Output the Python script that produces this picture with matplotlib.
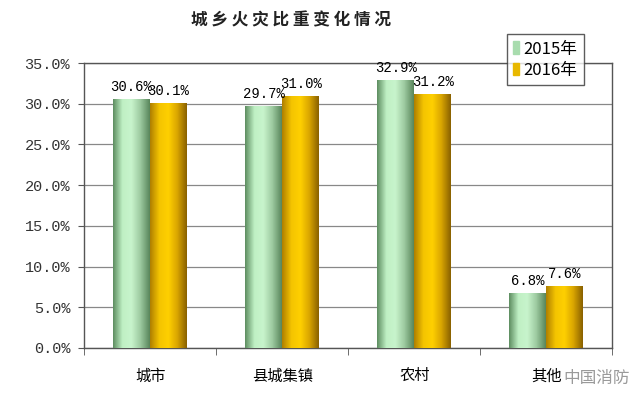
import matplotlib
matplotlib.use("Agg")
import matplotlib.pyplot as plt
from matplotlib.colors import LinearSegmentedColormap
import numpy as np

plt.rcParams['font.family'] = ['Noto Sans CJK SC', 'DejaVu Sans']

categories = ['城市', '县城集镇', '农村', '其他']
series_names = ['2015年', '2016年']
vals_2015 = [30.6, 29.7, 32.9, 6.8]
vals_2016 = [30.1, 31.0, 31.2, 7.6]
yticks = [0, 5, 10, 15, 20, 25, 30, 35]
title = '城乡火灾比重变化情况'

# cylinder-ish shading for each series
green_cmap = LinearSegmentedColormap.from_list(
    'g', ['#5f8f62', '#bff0c4', '#c8f4cc', '#9cc99f', '#5a875c'])
gold_cmap = LinearSegmentedColormap.from_list(
    'y', ['#b08000', '#f4c400', '#ffd000', '#d8a400', '#8a6200'])
flat_colors = ['#a8dcae', '#e8b800']

fig = plt.figure(figsize=(6.39, 3.94), dpi=100)
ax = fig.add_axes([0.1315, 0.117, 0.827, 0.723])

x = np.arange(len(categories))
w = 0.28
grad = np.linspace(0, 1, 64).reshape(1, -1)

for vals, off, cmap, col in [(vals_2015, -w / 2, green_cmap, flat_colors[0]),
                             (vals_2016, w / 2, gold_cmap, flat_colors[1])]:
    bars = ax.bar(x + off, vals, w, color=col, zorder=2)
    for b, v in zip(bars, vals):
        im = ax.imshow(grad, cmap=cmap, aspect='auto', zorder=3,
                       extent=[b.get_x(), b.get_x() + b.get_width(), 0, b.get_height()])
        im.set_clip_path(b)
        ax.text(b.get_x() + b.get_width() / 2, v + 0.6, '%.1f%%' % v,
                ha='center', va='bottom', fontsize=10, family='Liberation Mono',
                zorder=4)

ax.set_xlim(-0.5, len(categories) - 0.5)
ax.set_ylim(0, 35)
ax.set_yticks(yticks)
ax.set_yticklabels(['%.1f%%' % t for t in yticks], family='Liberation Mono',
                   fontsize=11, color='#333333')
ax.set_xticks(x)
ax.set_xticklabels(categories, fontsize=11)
ax.set_xticks(np.arange(len(categories) + 1) - 0.5, minor=True)
ax.tick_params(axis='x', which='major', length=0, pad=14)
ax.tick_params(axis='x', which='minor', length=5, color='#555555')
ax.tick_params(axis='y', length=4, color='#555555', pad=6)
ax.grid(axis='y', color='#888888', linewidth=0.9, zorder=0)
ax.set_axisbelow(True)
for s in ax.spines.values():
    s.set_color('#555555')
    s.set_linewidth(1.0)

fig.text(0.455, 0.948, ' '.join(title), ha='center', va='center',
         fontsize=12, fontweight='bold', color='#222222')

handles = [plt.Rectangle((0, 0), 1, 1, color=c) for c in flat_colors]
leg = fig.legend(handles, series_names, loc='upper left',
                 bbox_to_anchor=(0.78, 0.935), frameon=True, fancybox=False,
                 handlelength=0.35, handleheight=0.8, handletextpad=0.25,
                 fontsize=12, borderpad=0.4, labelspacing=0.25)
leg.get_frame().set_edgecolor('#333333')
leg.get_frame().set_linewidth(1.0)

fig.text(0.985, 0.04, '中国消防', ha='right', va='center', fontsize=12,
         color='#9a9a9a')

fig.savefig('out.png', dpi=100)
